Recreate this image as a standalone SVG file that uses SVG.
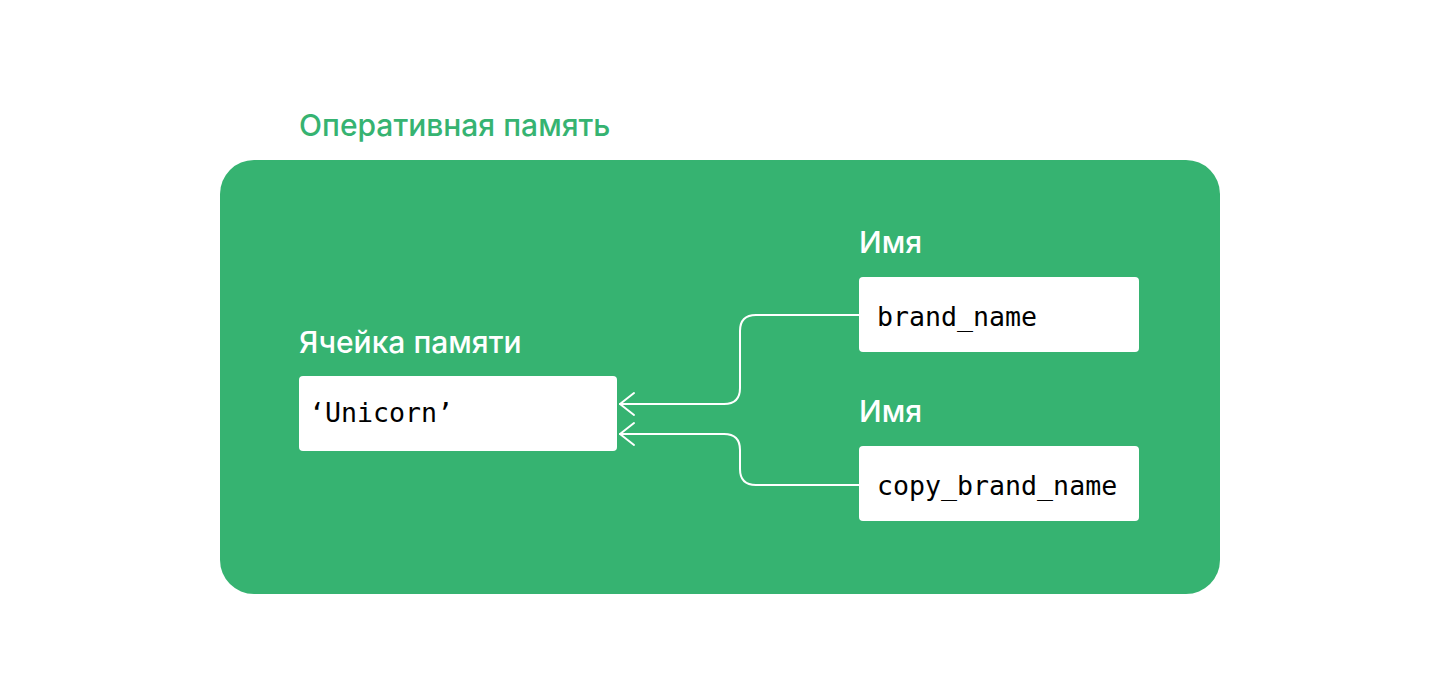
<svg xmlns="http://www.w3.org/2000/svg" width="1440" height="700" viewBox="0 0 1440 700">
<style>
.lbl{font-family:Inter,"Noto Sans",sans-serif;font-size:30px;font-weight:500;fill:#fff}
.box{fill:#fff}
.code{font-family:"DejaVu Sans Mono","Liberation Mono",monospace;font-size:26.6px;fill:#000}
.conn{fill:none;stroke:#fff;stroke-width:2;stroke-linecap:round;stroke-linejoin:round}
</style>
<rect width="1440" height="700" fill="#fff"/>
<g id="title"><text x="299" y="136" class="lbl" style="fill:#36B371">Оперативная память</text></g>
<g id="memory"><rect x="220" y="160" width="1000" height="434" rx="34" fill="#36B371"/></g>
<g id="cell">
<text x="299" y="353" class="lbl">Ячейка памяти</text>
<rect x="299" y="376" width="318" height="75" rx="4" class="box"/>
<text x="309" y="422" class="code">‘Unicorn’</text>
</g>
<g id="name1">
<text x="859" y="253" class="lbl">Имя</text>
<rect x="859" y="277" width="280" height="75" rx="4" class="box"/>
<text x="877" y="326" class="code">brand_name</text>
</g>
<g id="name2">
<text x="859" y="422" class="lbl">Имя</text>
<rect x="859" y="446" width="280" height="75" rx="4" class="box"/>
<text x="877" y="495" class="code">copy_brand_name</text>
</g>
<g id="connectors">
<path class="conn" d="M859 315 H756 Q740 315 740 331 V388 Q740 404 724 404 H620"/>
<path class="conn" d="M634 393 L620 404 L634 415"/>
<path class="conn" d="M859 485 H756 Q740 485 740 469 V450 Q740 434 724 434 H620"/>
<path class="conn" d="M634 423 L620 434 L634 445"/>
</g>
</svg>
